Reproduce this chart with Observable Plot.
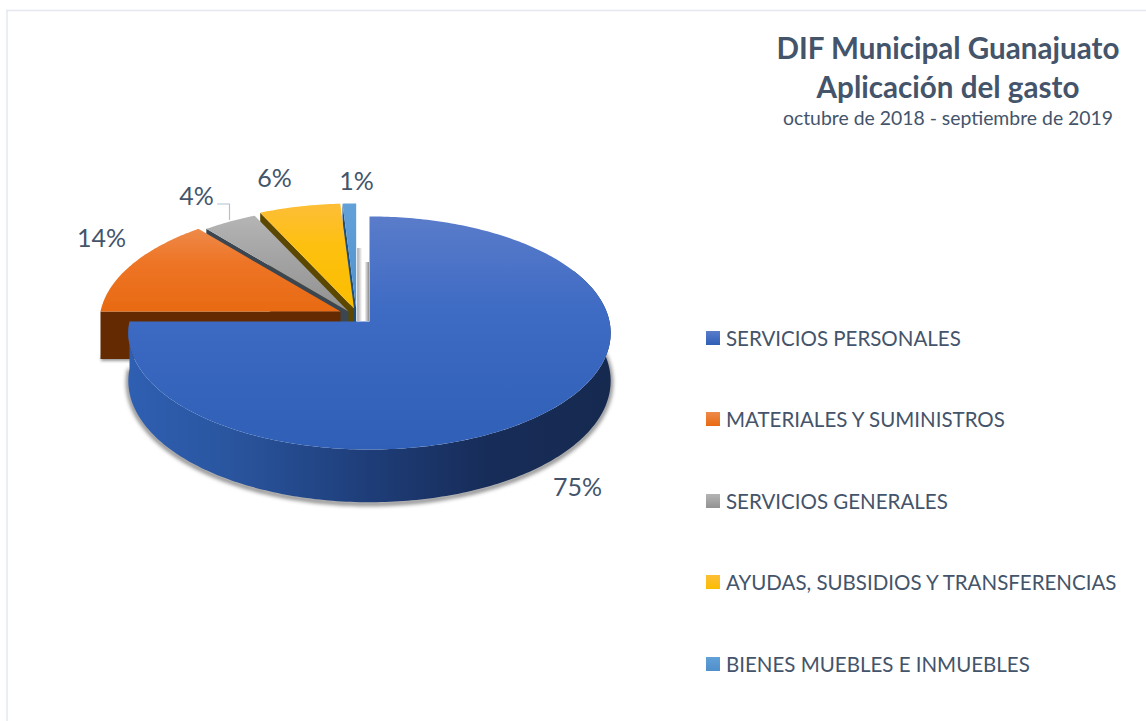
<!DOCTYPE html>
<html lang="es">
<head>
<meta charset="utf-8">
<script src="https://cdn.jsdelivr.net/npm/d3@7"></script>
<script src="https://cdn.jsdelivr.net/npm/@observablehq/plot@0.6"></script>
<style>
  html, body { margin: 0; background: #fff; overflow: hidden; }
  #wrap { position: relative; width: 1146px; height: 721px; font-family: Lato, "Open Sans", sans-serif; color: #44546a; }
  #wrap svg { display: block; position: absolute; left: 0; top: 0; }
  #head { position: absolute; left: 750px; width: 396px; top: 28px; text-align: center; }
  #head h1 { margin: 0; font-size: 29.6px; line-height: 39px; font-weight: 700; }
  #head p { margin: 0; font-size: 19.4px; line-height: 24px; }
  #legend { position: absolute; left: 706px; top: 297px; }
  .row { height: 81.5px; display: flex; align-items: center; font-size: 20.5px; white-space: nowrap; }
  .sw { width: 14px; height: 14px; margin-right: 6px; flex: none; }
</style>
</head>
<body>
<div id="wrap"></div>
<script>
const categories = ["SERVICIOS PERSONALES", "MATERIALES Y SUMINISTROS", "SERVICIOS GENERALES", "AYUDAS, SUBSIDIOS Y TRANSFERENCIAS", "BIENES MUEBLES E INMUEBLES"];
const shares = [75, 14, 4, 6, 1];
const labels = ["75%", "14%", "4%", "6%", "1%"];
const topColors = [["#5a7cca", "#3e6bc4", "#2f5fb6"], ["#ee8a4a", "#ee7526", "#e86a12"], ["#b5b5b5", "#a5a5a5", "#929292"], ["#fdbe38", "#fdc00f", "#fbbd00"], ["#62a0d8", "#5b9bd5", "#4f8fca"]];
const cutColors = ["#1f3f7e", "#642b02", "#3b4650", "#5b4700", "#1e4e79"];

// layout: the apex of each exploded slice, and where its label sits
const apexX = [369, 340, 348, 353.5, 355.7];
const apexY = [321, 311, 311, 308, 308];
const labelX = [577, 101, 196, 274, 356];
const labelY = [487, 238, 196, 178, 181];
const RX = 240, RY = 115.4, PERSP = 0.0987, DEPTH = 47.5;

const pie = d3.pie().sort(null).startAngle(0).endAngle(2 * Math.PI)(shares);

// a point on the tilted disc, clockwise angle from the top
function project(i, a, r, drop) {
  const u = r * Math.sin(a), v = r * Math.cos(a), s = 1 / (1 + PERSP * v);
  return {px: apexX[i] + RX * u * s, py: apexY[i] - RY * v * s + (drop ? DEPTH * s : 0)};
}
function arc(i, a0, a1, drop) {
  const n = Math.max(8, Math.ceil((a1 - a0) * 60));
  return d3.range(n + 1).map(k => project(i, a0 + (a1 - a0) * k / n, 1, drop));
}
const topFace = i => [project(i, 0, 0), ...arc(i, pie[i].startAngle, pie[i].endAngle, false)];
const cutFace = i => {
  const a = pie[i].startAngle;
  return [project(i, a, 0), project(i, a, 1), project(i, a, 1, true), project(i, a, 0, true)];
};
const polygon = (pts, fill, extra = {}) => Plot.line(pts, {x: "px", y: "py", fill, stroke: "none", curve: "linear", ...extra});

const wall = [...arc(0, Math.PI * 0.35, pie[0].endAngle, false), ...arc(0, Math.PI * 0.35, pie[0].endAngle, true).reverse()];
const rim = arc(0, Math.PI * 0.45, pie[0].endAngle, true);

const marks = [
  // chart frame
  Plot.ruleX([6.5], {y1: 10, y2: 721, stroke: "#e4e8ee", strokeWidth: 1.5}),
  Plot.ruleY([10], {x1: 6, x2: 1146, stroke: "#e4e8ee", strokeWidth: 1.5}),
  // soft shadows in the gap behind the blue slice
  Plot.rect([0], {x1: apexX[4] + 1.5, x2: apexX[4] + 6.5, y1: 248, y2: apexY[0], fill: "url(#gapA)"}),
  Plot.rect([0], {x1: apexX[0] - 4.5, x2: apexX[0], y1: 262, y2: apexY[0], fill: "url(#gapB)"}),
  // shadows under the walls
  Plot.line(rim, {x: "px", y: d => d.py + 1.5, stroke: "#666", strokeWidth: 3.5, curve: "linear", imageFilter: "blur(2px)"}),
  Plot.rect([0], {x1: 101, x2: 132, y1: 356, y2: 361, fill: "#999", imageFilter: "blur(1.5px)"})
];
// back to front: the small slices first, each top face covering the cut of the one behind it
[4, 3, 2, 1].forEach(i => {
  marks.push(polygon(cutFace(i), cutColors[i]));
  marks.push(polygon(topFace(i), `url(#top${i})`));
});
marks.push(polygon(wall, "url(#wall)"));
marks.push(polygon(topFace(0), "url(#top0)"));
// leader line of the 4% label
marks.push(Plot.line([{px: 217, py: 203.5}, {px: 229, py: 203.5}, {px: 229, py: 219}], {x: "px", y: "py", stroke: "#b4c0cf", strokeWidth: 1.2}));
marks.push(Plot.text(labels, {x: (d, i) => labelX[i], y: (d, i) => labelY[i], text: d => d, fontSize: 25, fill: "#44546a", fontFamily: "Lato, 'Open Sans', sans-serif", textAnchor: "middle"}));

const svg = Plot.plot({
  width: 1146, height: 721, margin: 0,
  x: {domain: [0, 1146], range: [0, 1146], axis: null},
  y: {domain: [0, 721], range: [0, 721], axis: null},
  marks
});

const defs = d3.select(svg).insert("defs", ":first-child");
function gradient(id, stops, horizontal) {
  const g = defs.append("linearGradient").attr("id", id).attr("x1", 0).attr("y1", 0).attr("x2", horizontal ? 1 : 0).attr("y2", horizontal ? 0 : 1);
  stops.forEach(([o, c]) => g.append("stop").attr("offset", o).attr("stop-color", c));
}
topColors.forEach((c, i) => gradient(`top${i}`, [[0, c[0]], [0.4, c[1]], [1, c[2]]]));
gradient("wall", [[0, "#2f5fb2"], [0.2, "#2a56a0"], [0.5, "#1e3d78"], [0.75, "#172c58"], [1, "#162a50"]], true);
gradient("gapA", [[0, "#a8a8a8"], [1, "#ffffff"]], true);
gradient("gapB", [[0, "#ffffff"], [1, "#8c8c8c"]], true);

const wrap = document.getElementById("wrap");
wrap.append(svg);

const head = document.createElement("div");
head.id = "head";
head.innerHTML = "<h1>DIF Municipal Guanajuato<br>Aplicación del gasto</h1><p>octubre de 2018 - septiembre de 2019</p>";
wrap.append(head);

const legend = document.createElement("div");
legend.id = "legend";
categories.forEach((name, i) => {
  const row = document.createElement("div");
  row.className = "row";
  const sw = document.createElement("span");
  sw.className = "sw";
  sw.style.background = `linear-gradient(${topColors[i][0]}, ${topColors[i][2]})`;
  row.append(sw, name);
  legend.append(row);
});
wrap.append(legend);
</script>
</body>
</html>
